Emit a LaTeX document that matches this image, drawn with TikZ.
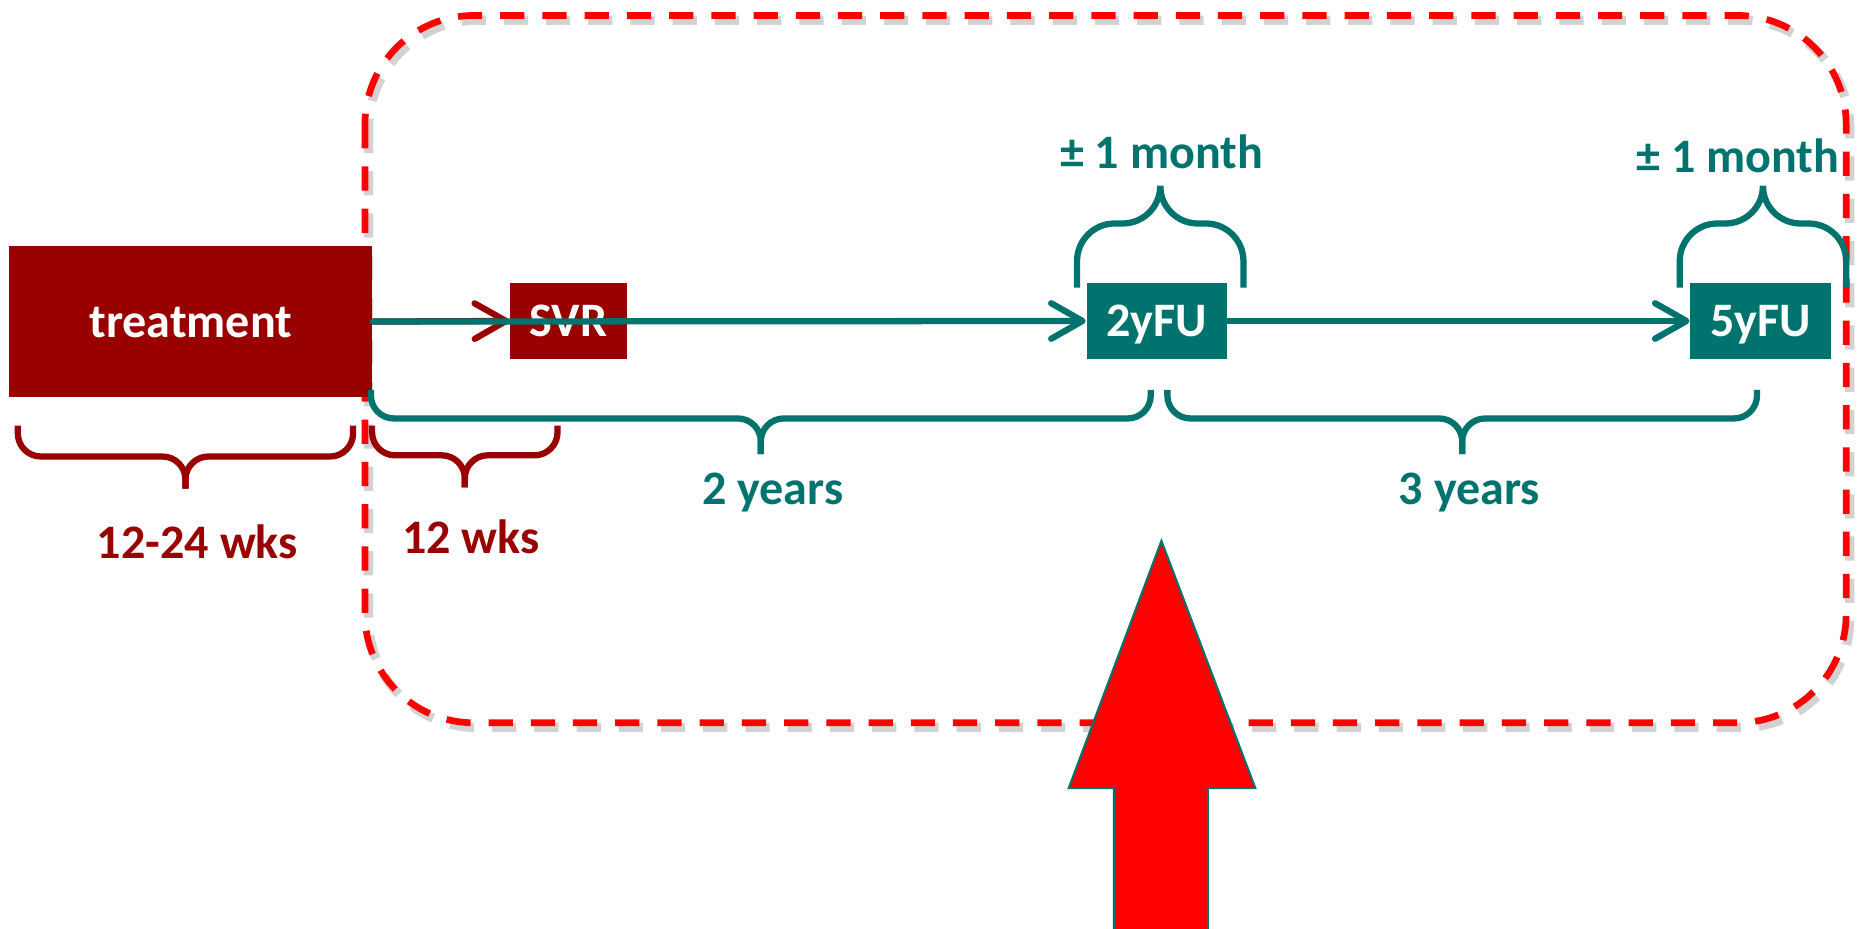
\documentclass[tikz,border=0pt]{standalone}
\usepackage{fontspec}
\setmainfont{Carlito}
\usetikzlibrary{positioning,arrows.meta}

\definecolor{trRed}{RGB}{153,0,0}
\definecolor{fuTeal}{RGB}{0,115,110}
\definecolor{frameRed}{RGB}{255,0,0}
\newcommand{\lblfont}{\fontsize{11.5}{14}\selectfont\bfseries}
% curly brace: style, left x, right x, y of the ends, y of the bar, y of the tip
\newcommand{\curly}[6]{%
  \draw[#1] (#2,#4) -- (#2,#5) -- ({(#2+#3)/2},#5) -- ({(#2+#3)/2},#6);
  \draw[#1] (#3,#4) -- (#3,#5) -- ({(#2+#3)/2},#5) -- ({(#2+#3)/2},#6);
}

\tikzset{
  box/.style={fill=#1, text=white, font=\lblfont, inner sep=0pt,
    text height=7.4pt, text depth=0pt},
  lbl/.style={text=#1, font=\lblfont, anchor=base},
  flow/.style={draw=#1, line width=1.5pt, line cap=round,
    -{Straight Barb[length=7.5pt,width=8.5pt,line join=round,line cap=round]}},
  brc/.style={draw=#1, line width=1.5pt, rounded corners=5.5pt},
  frame/.style={line width=1.6pt, rounded corners=26pt, dash pattern=on 5.8pt off 4.3pt},
}

\begin{document}
\begin{tikzpicture}[x=0.01cm, y=-0.01cm]
  \useasboundingbox (0,0) rectangle (1568,781);
  \clip (0,0) rectangle (1568,781);
  % dashed frame with its shadow
  \draw[frame, gray!35, line width=2.2pt, shift={(3,4)}] (307,13) rectangle (1553,608);
  \draw[frame, frameRed] (307,13) rectangle (1553,608);
  % boxes
  \node[box=trRed, minimum width=3.05cm, minimum height=1.27cm] (treat) at (160.5,270.5) {treatment};
  \node[box=trRed, minimum width=0.98cm, minimum height=0.64cm] (svr) at (478,270) {SVR};
  \node[box=fuTeal, minimum width=1.18cm, minimum height=0.64cm] (fu2) at (973,270) {2yFU};
  \node[box=fuTeal, minimum width=1.18cm, minimum height=0.64cm] (fu5) at (1481,270) {5yFU};
  % arrows
  \draw[flow=trRed] (treat.east) -- (svr.west);
  \draw[flow=fuTeal] (treat.east) -- (fu2.west);
  \draw[flow=fuTeal] (fu2) -- (fu5);
  % braces
  \curly{brc=trRed}{15}{297}{358}{384}{411}
  \curly{brc=trRed}{313}{469}{358}{383}{410}
  \curly{brc=fuTeal}{312}{968}{328}{352}{382}
  \curly{brc=fuTeal}{982}{1478}{328}{352}{382}
  \foreach \x in {976,1483} {
    \curly{brc=fuTeal, rounded corners=9pt}{\x-70}{\x+70}{242}{188}{160}
  }
  % labels
  \node[lbl=fuTeal] (pm2) at (977,142) {± 1 month};
  \node[lbl=fuTeal] (pm5) at (1462,145) {± 1 month};
  \node[lbl=fuTeal] (yrs2) at (650,424) {2 years};
  \node[lbl=fuTeal] (yrs3) at (1236,424) {3 years};
  \node[lbl=trRed] (wks1) at (166,470) {12-24 wks};
  \node[lbl=trRed] (wks2) at (396,466) {12 wks};
  % big red arrow
  \filldraw[fill=frameRed, draw=fuTeal, line width=0.5pt]
    (977,455) -- (1056,663) -- (1016,663) -- (1016,800)
    -- (937,800) -- (937,663) -- (899,663) -- cycle;
\end{tikzpicture}
\end{document}
